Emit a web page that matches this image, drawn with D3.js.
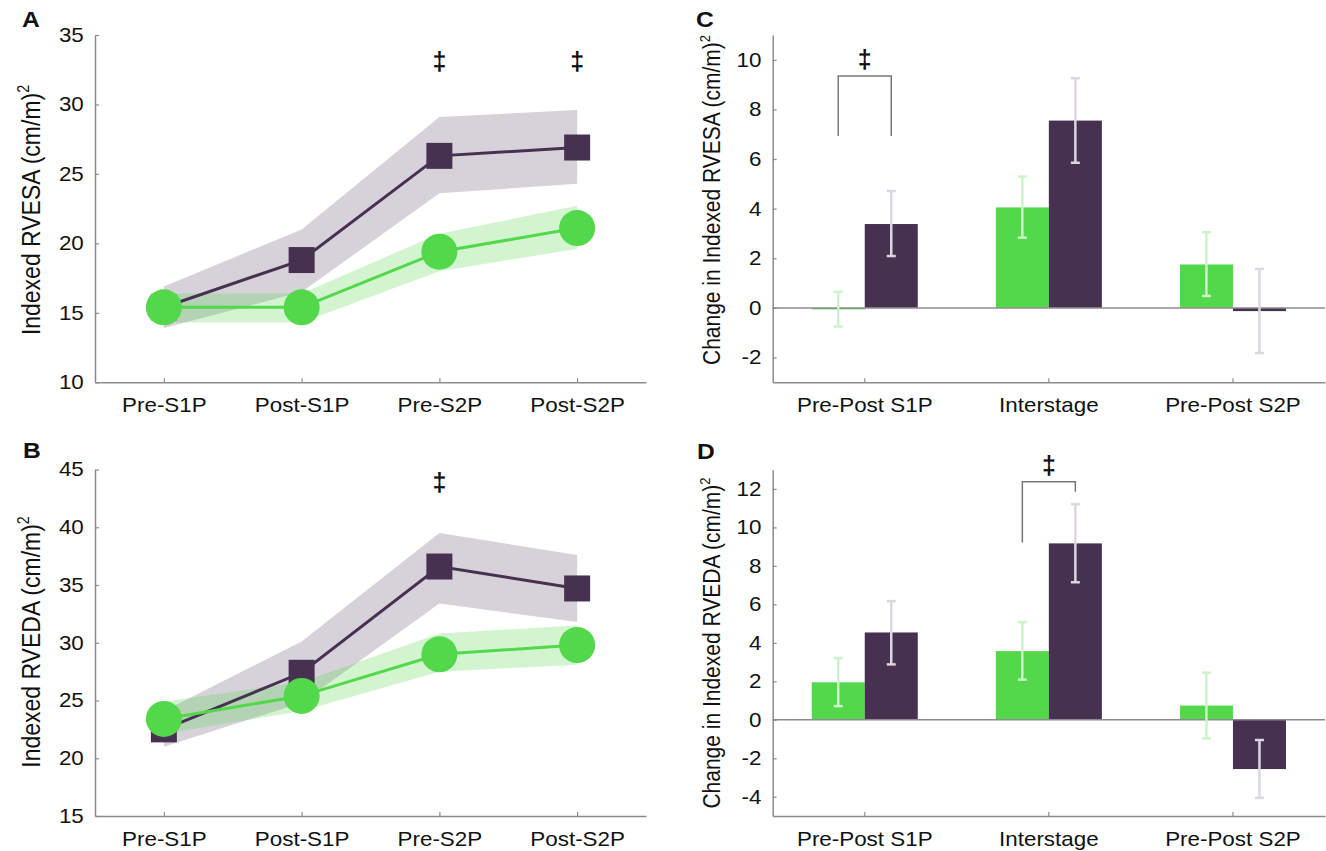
<!DOCTYPE html>
<html><head><meta charset="utf-8">
<script src="https://cdn.jsdelivr.net/npm/d3@7"></script>
<style>
body{margin:0;background:#fff}
svg{display:block}
text{font-family:"Liberation Sans",Arial,Helvetica,sans-serif;fill:#111}
</style>
</head><body>
<svg id="fig" width="1326" height="851"></svg>
<script>
// ---------- data ----------
const timepoints = ["Pre-S1P", "Post-S1P", "Pre-S2P", "Post-S2P"];
const intervals = ["Pre-Post S1P", "Interstage", "Pre-Post S2P"];

// Panel A: indexed RVESA
const rvesaPurple   = [15.4, 18.8, 26.3, 26.9];
const rvesaPurpleLo = [13.9, 16.5, 23.6, 24.3];
const rvesaPurpleHi = [16.9, 21.0, 29.1, 29.6];
const rvesaGreen    = [15.4, 15.4, 19.4, 21.1];
const rvesaGreenLo  = [14.3, 14.3, 18.0, 19.6];
const rvesaGreenHi  = [16.4, 16.4, 20.7, 22.7];
const rvesaSig      = ["Pre-S2P", "Post-S2P"];
const rvesaTicks    = [10, 15, 20, 25, 30, 35];

// Panel B: indexed RVEDA
const rvedaPurple   = [22.5, 27.4, 36.6, 34.7];
const rvedaPurpleLo = [21.0, 24.8, 33.4, 31.8];
const rvedaPurpleHi = [24.1, 30.1, 39.5, 37.6];
const rvedaGreen    = [23.4, 25.4, 29.0, 29.8];
const rvedaGreenLo  = [22.1, 24.1, 27.5, 28.1];
const rvedaGreenHi  = [24.9, 26.6, 30.8, 31.5];
const rvedaSig      = ["Pre-S2P"];
const rvedaTicks    = [15, 20, 25, 30, 35, 40, 45];

// Panel C: change in indexed RVESA
const dEsaGreen     = [-0.03, 4.05, 1.75];
const dEsaGreenLo   = [-0.75, 2.83, 0.48];
const dEsaGreenHi   = [0.65, 5.29, 3.05];
const dEsaPurple    = [3.38, 7.55, -0.13];
const dEsaPurpleLo  = [2.09, 5.85, -1.82];
const dEsaPurpleHi  = [4.71, 9.26, 1.57];
const dEsaTicks     = [-2, 0, 2, 4, 6, 8, 10];

// Panel D: change in indexed RVEDA
const dEdaGreen     = [1.95, 3.57, 0.74];
const dEdaGreenLo   = [0.71, 2.09, -0.97];
const dEdaGreenHi   = [3.21, 5.08, 2.45];
const dEdaPurple    = [4.54, 9.17, -2.56];
const dEdaPurpleLo  = [2.88, 7.15, -4.06];
const dEdaPurpleHi  = [6.17, 11.21, -1.05];
const dEdaTicks     = [-4, -2, 0, 2, 4, 6, 8, 10, 12];

// ---------- style ----------
const PURPLE = "#463150", GREEN = "#52d84a";
const PURPLE_BAND = "rgba(72,50,86,0.22)", GREEN_BAND = "rgba(82,216,74,0.26)";
const PURPLE_ERR = "#dcd6e0", GREEN_ERR = "#cdf3ca";
const AXIS = "#8c8c8c";
const SX = 1.12; // horizontal text stretch of the original figure
const fmt = d => String(d); // plain hyphen-minus like the original

const svg = d3.select("#fig");

function styleAxis(g) {
  g.select(".domain").attr("stroke", AXIS).attr("stroke-width", 1.5);
  g.selectAll(".tick line").attr("stroke", AXIS).attr("stroke-width", 1.2);
  g.selectAll(".tick text").attr("font-size", 20).attr("fill", "#111")
    .attr("transform", `scale(${SX},1)`);
}

function panelLetter(t, x, y) {
  svg.append("text").attr("transform", `translate(${x},${y}) scale(${SX},1)`)
    .attr("font-size", 22).attr("font-weight", "bold").text(t);
}

function yTitle(main, cx, cy, size) {
  const t = svg.append("text")
    .attr("transform", `translate(${cx},${cy}) scale(${SX},1) rotate(-90)`)
    .attr("text-anchor", "middle").attr("font-size", size);
  t.append("tspan").text(main);
  t.append("tspan").attr("font-size", size * 0.62).attr("dy", -size * 0.42).text("2");
}

function dagger(x, y) {
  svg.append("text").attr("x", x).attr("y", y).attr("text-anchor", "middle")
    .attr("font-size", 25).attr("font-weight", "bold").text("\u2021");
}

// ---------- line panels ----------
function linePanel(opt) {
  const x = d3.scalePoint().domain(timepoints).range([95, 646]).padding(0.5);
  const y = d3.scaleLinear().domain(opt.domain).range(opt.range);
  const g = svg.append("g");

  g.append("g").attr("transform", `translate(0,${opt.range[0]})`)
    .call(d3.axisBottom(x).tickSize(-4).tickPadding(16).tickSizeOuter(0))
    .call(styleAxis);
  g.append("g").attr("transform", `translate(95,0)`)
    .call(d3.axisLeft(y).tickValues(opt.ticks).tickFormat(fmt).tickSize(-4).tickPadding(10).tickSizeOuter(0))
    .call(styleAxis);

  const band = (lo, hi) => d3.area()
    .x((d, i) => x(timepoints[i])).y0((d, i) => y(lo[i])).y1((d, i) => y(hi[i]))(timepoints);
  const line = vals => d3.line().x((d, i) => x(timepoints[i])).y(d => y(d))(vals);

  g.append("path").attr("d", band(opt.pLo, opt.pHi)).attr("fill", PURPLE_BAND);
  g.append("path").attr("d", band(opt.gLo, opt.gHi)).attr("fill", GREEN_BAND);

  g.append("path").attr("d", line(opt.p)).attr("fill", "none").attr("stroke", PURPLE).attr("stroke-width", 3);
  const s = 26;
  g.selectAll(".sq").data(opt.p).join("rect")
    .attr("x", (d, i) => x(timepoints[i]) - s / 2).attr("y", d => y(d) - s / 2)
    .attr("width", s).attr("height", s).attr("fill", PURPLE);

  g.append("path").attr("d", line(opt.g)).attr("fill", "none").attr("stroke", GREEN).attr("stroke-width", 3);
  g.selectAll(".ci").data(opt.g).join("circle")
    .attr("cx", (d, i) => x(timepoints[i])).attr("cy", d => y(d)).attr("r", 18).attr("fill", GREEN);

  opt.sig.forEach(k => dagger(x(k), opt.sigY));
}

// ---------- bar panels ----------
function barPanel(opt) {
  const x = d3.scaleBand().domain(intervals).range([772.7, 1325]).paddingInner(0.424).paddingOuter(0.212);
  const sub = d3.scaleBand().domain(["g", "p"]).range([0, x.bandwidth()]);
  const y = d3.scaleLinear().domain(opt.domain).range(opt.range);
  const g = svg.append("g");

  const xAxis = d3.axisBottom(x).tickSize(-4).tickPadding(16).tickSizeOuter(0);
  g.append("g").attr("transform", `translate(0,${opt.range[0]})`).call(xAxis).call(styleAxis);
  g.append("g").attr("transform", `translate(772.7,0)`)
    .call(d3.axisLeft(y).tickValues(opt.ticks).tickFormat(fmt).tickSize(-4).tickPadding(10).tickSizeOuter(0))
    .call(styleAxis);

  const series = [
    {k: "g", v: opt.g, lo: opt.gLo, hi: opt.gHi, c: GREEN, e: GREEN_ERR},
    {k: "p", v: opt.p, lo: opt.pLo, hi: opt.pHi, c: PURPLE, e: PURPLE_ERR}
  ];
  series.forEach(s => {
    g.selectAll(null).data(s.v).join("rect")
      .attr("x", (d, i) => x(intervals[i]) + sub(s.k))
      .attr("width", sub.bandwidth())
      .attr("y", d => y(Math.max(0, d)))
      .attr("height", d => Math.max(1.5, Math.abs(y(d) - y(0))))
      .attr("fill", s.c);
  });

  // zero line
  g.append("line").attr("x1", 772.7).attr("x2", 1325).attr("y1", y(0)).attr("y2", y(0))
    .attr("stroke", AXIS).attr("stroke-width", 1.5);

  series.forEach(s => {
    s.v.forEach((d, i) => {
      const cx = x(intervals[i]) + sub(s.k) + sub.bandwidth() / 2;
      const eg = g.append("g").attr("stroke", s.e).attr("stroke-width", 2.5);
      eg.append("line").attr("x1", cx).attr("x2", cx).attr("y1", y(s.lo[i])).attr("y2", y(s.hi[i]));
      eg.append("line").attr("x1", cx - 4.5).attr("x2", cx + 4.5).attr("y1", y(s.lo[i])).attr("y2", y(s.lo[i]));
      eg.append("line").attr("x1", cx - 4.5).attr("x2", cx + 4.5).attr("y1", y(s.hi[i])).attr("y2", y(s.hi[i]));
    });
  });

  // significance bracket
  const bi = intervals.indexOf(opt.bracket.cat);
  const xl = x(intervals[bi]) + sub("g") + sub.bandwidth() / 2;
  const xr = x(intervals[bi]) + sub("p") + sub.bandwidth() / 2;
  g.append("path")
    .attr("d", `M${xl},${y(opt.bracket.left)}V${y(opt.bracket.top)}H${xr}V${y(opt.bracket.right)}`)
    .attr("fill", "none").attr("stroke", "#777").attr("stroke-width", 1.5);
  dagger((xl + xr) / 2, y(opt.bracket.top) - 8);
}

// ---------- draw ----------
linePanel({domain: [10, 35], range: [382.3, 35], ticks: rvesaTicks,
  p: rvesaPurple, pLo: rvesaPurpleLo, pHi: rvesaPurpleHi,
  g: rvesaGreen, gLo: rvesaGreenLo, gHi: rvesaGreenHi, sig: rvesaSig, sigY: 70});
linePanel({domain: [15, 45], range: [816, 469.5], ticks: rvedaTicks,
  p: rvedaPurple, pLo: rvedaPurpleLo, pHi: rvedaPurpleHi,
  g: rvedaGreen, gLo: rvedaGreenLo, gHi: rvedaGreenHi, sig: rvedaSig, sigY: 491});

barPanel({domain: [-3, 11], range: [382.3, 35], ticks: dEsaTicks,
  g: dEsaGreen, gLo: dEsaGreenLo, gHi: dEsaGreenHi,
  p: dEsaPurple, pLo: dEsaPurpleLo, pHi: dEsaPurpleHi,
  bracket: {cat: "Pre-Post S1P", top: 9.35, left: 6.93, right: 6.93}});
barPanel({domain: [-5, 13], range: [816, 469.7], ticks: dEdaTicks,
  g: dEdaGreen, gLo: dEdaGreenLo, gHi: dEdaGreenHi,
  p: dEdaPurple, pLo: dEdaPurpleLo, pHi: dEdaPurpleHi,
  bracket: {cat: "Interstage", top: 12.37, left: 9.22, right: 11.85}});

yTitle("Indexed RVESA (cm/m)", 40, 210, 23);
yTitle("Indexed RVEDA (cm/m)", 40, 642, 23);
yTitle("Change in Indexed RVESA (cm/m)", 720, 200, 21);
yTitle("Change in Indexed RVEDA (cm/m)", 720, 643, 21);

panelLetter("A", 22, 27);
panelLetter("B", 23, 458);
panelLetter("C", 696, 27);
panelLetter("D", 697, 459);
</script>
</body></html>
